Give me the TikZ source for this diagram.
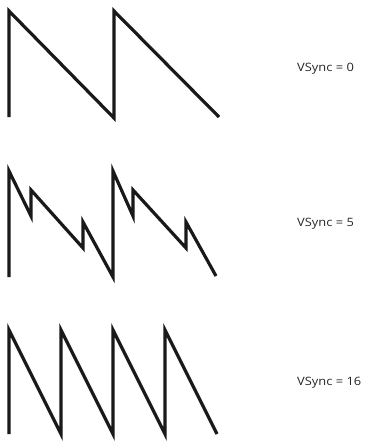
\documentclass[tikz,border=0pt]{standalone}
\usepackage{fontspec}
\setmainfont{Open Sans}
\begin{document}
\begin{tikzpicture}[x=1pt,y=-1pt,
  wave/.style={line width=3.2pt,line join=miter,draw=black!90},
  lbl/.style={anchor=base west,inner sep=0pt,font=\fontsize{11.5}{13}\selectfont,text=black!85,xscale=1.12}]
\useasboundingbox (0,0) rectangle (367,445);
% VSync = 0
\coordinate (a0) at (9,117);
\coordinate (a1) at (9,11);
\coordinate (a2) at (114,118);
\coordinate (a3) at (114,11);
\coordinate (a4) at (219,117);
\draw[wave] (a0) -- (a1) -- (a2) -- (a3) -- (a4);
% VSync = 5
\coordinate (b0) at (9,277);
\coordinate (b1) at (9,171);
\coordinate (b2) at (31,216);
\coordinate (b3) at (31,190);
\coordinate (b4) at (83,248);
\coordinate (b5) at (83,222);
\coordinate (b6) at (113,277);
\coordinate (b7) at (113,171);
\coordinate (b8) at (133,216);
\coordinate (b9) at (133,190);
\coordinate (b10) at (186,248);
\coordinate (b11) at (186,222);
\coordinate (b12) at (216,276);
\draw[wave] (b0) -- (b1) -- (b2) -- (b3) -- (b4) -- (b5) -- (b6) -- (b7) -- (b8) -- (b9) -- (b10) -- (b11) -- (b12);
% VSync = 16
\coordinate (c0) at (9,434);
\coordinate (c1) at (9,330);
\coordinate (c2) at (61,434);
\coordinate (c3) at (61,330);
\coordinate (c4) at (113,434);
\coordinate (c5) at (113,330);
\coordinate (c6) at (165,434);
\coordinate (c7) at (165,330);
\coordinate (c8) at (217,434);
\draw[wave] (c0) -- (c1) -- (c2) -- (c3) -- (c4) -- (c5) -- (c6) -- (c7) -- (c8);
\node[lbl] (l0) at (297,71) {VSync = 0};
\node[lbl] (l1) at (297,226) {VSync = 5};
\node[lbl] (l2) at (297,385) {VSync = 16};
\end{tikzpicture}
\end{document}
